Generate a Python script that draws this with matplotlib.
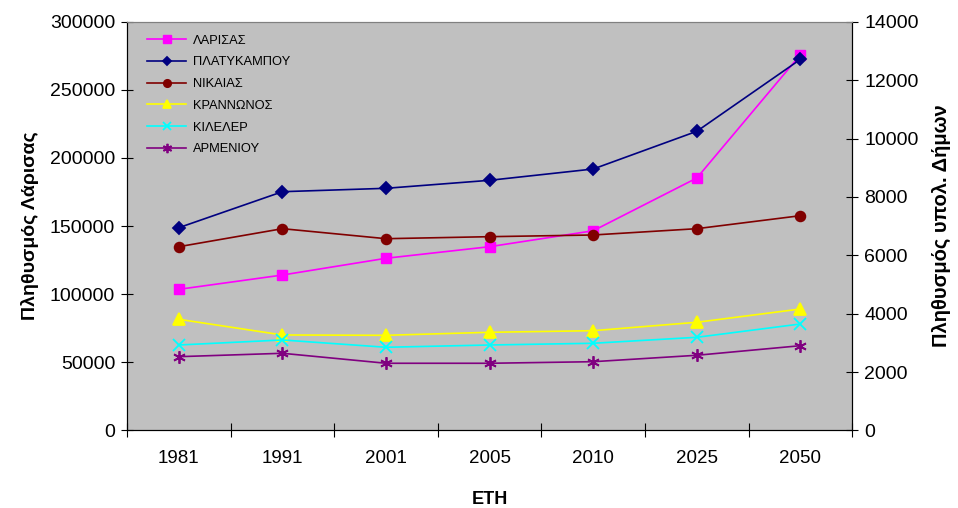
import matplotlib.pyplot as plt
import numpy as np

plt.rcParams['font.family'] = ['Liberation Sans', 'DejaVu Sans']

years = ['1981', '1991', '2001', '2005', '2010', '2025', '2050']

# Λάρισα (αριστερός άξονας)
larisa = [103600, 114100, 126400, 134900, 146600, 185300, 275800]

# υπόλοιποι δήμοι (δεξιός άξονας)
platykampou = [6946, 8179, 8295, 8569, 8956, 10248, 12713]
nikaias = [6295, 6912, 6569, 6638, 6696, 6912, 7357]
krannonos = [3808, 3271, 3260, 3363, 3418, 3706, 4161]
kileler = [2928, 3100, 2850, 2928, 2987, 3192, 3648]
armeniou = [2528, 2644, 2302, 2302, 2356, 2576, 2904]

names = ['ΛΑΡΙΣΑΣ', 'ΠΛΑΤΥΚΑΜΠΟΥ', 'ΝΙΚΑΙΑΣ', 'ΚΡΑΝΝΩΝΟΣ', 'ΚΙΛΕΛΕΡ', 'ΑΡΜΕΝΙΟΥ']

x = np.arange(len(years))

fig = plt.figure(figsize=(9.58, 5.08), dpi=100)
ax = fig.add_axes([0.1326, 0.1526, 0.757, 0.8046])
ax.set_facecolor('#C0C0C0')
ax2 = ax.twinx()

h1, = ax.plot(x, larisa, color='#FF00FF', marker='s', markersize=7, lw=1.2, label=names[0])

styles = [
    (platykampou, '#000080', 'D', 6),
    (nikaias, '#800000', 'o', 7),
    (krannonos, '#FFFF00', '^', 8),
    (kileler, '#00FFFF', 'x', 8),
    (armeniou, '#800080', (6, 2, 0), 9),
]
handles = [h1]
for (vals, col, mk, ms), name in zip(styles, names[1:]):
    h, = ax2.plot(x, vals, color=col, marker=mk, markersize=ms, lw=1.2,
                  markeredgewidth=1.3, label=name)
    handles.append(h)

ax.set_xlim(-0.5, 6.5)
ax.set_ylim(0, 300000)
ax2.set_ylim(0, 14000)
ax.set_yticks(np.arange(0, 300001, 50000))
ax2.set_yticks(np.arange(0, 14001, 2000))

ax.set_xticks(np.arange(-0.5, 7, 1))
ax.set_xticklabels([])
ax.set_xticks(x, minor=True)
ax.set_xticklabels(years, minor=True)
ax.tick_params(axis='x', which='minor', length=0, pad=14, labelsize=13.5)
ax.tick_params(axis='x', which='major', direction='inout', length=10, width=0.8)
ax.tick_params(axis='y', direction='inout', length=9, width=0.8, labelsize=14, pad=4)
ax2.tick_params(axis='y', direction='inout', length=9, width=0.8, labelsize=14, pad=4)

for a in (ax, ax2):
    a.spines['top'].set_color('#808080')
    a.spines['left'].set_color('black')
    a.spines['right'].set_color('black')
    a.spines['bottom'].set_color('black')

ax.set_xlabel('ΕΤΗ', fontsize=13, fontweight='bold', labelpad=17)
ax.set_ylabel('Πληθυσμός Λάρισας', fontsize=14, fontweight='bold', labelpad=8)
ax2.set_ylabel('Πληθυσμός υπολ. Δήμων', fontsize=14.5, fontweight='bold', labelpad=10,
               rotation=90)

ax2.legend(handles=handles, loc='upper left', bbox_to_anchor=(0.012, 0.997),
           frameon=False, fontsize=9.3, handlelength=3.0, labelspacing=0.75,
           handletextpad=0.5, markerscale=0.75)

fig.savefig('out.png', dpi=100)
